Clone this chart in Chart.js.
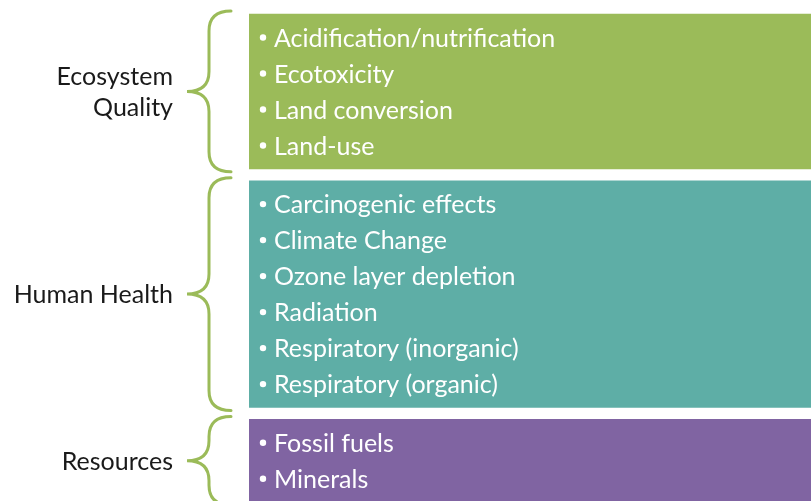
<!DOCTYPE html>
<html>
<head>
<meta charset="utf-8">
<script src="https://cdn.jsdelivr.net/npm/chart.js@4.4.1/dist/chart.umd.min.js"></script>
<style>
  html, body { margin: 0; padding: 0; background: #ffffff; }
  #wrap { width: 811px; height: 501px; }
</style>
</head>
<body>
<div id="wrap"><canvas id="diagram" width="811" height="501"></canvas></div>
<script>
// Gruppi e voci del diagramma
const groupNames = ['Ecosystem Quality', 'Human Health', 'Resources'];
const groupLabelLines = [['Ecosystem', 'Quality'], ['Human Health'], ['Resources']];
const groupItems = [
    ['Acidification/nutrification', 'Ecotoxicity', 'Land conversion', 'Land-use'],
    ['Carcinogenic effects', 'Climate Change', 'Ozone layer depletion', 'Radiation',
     'Respiratory (inorganic)', 'Respiratory (organic)'],
    ['Fossil fuels', 'Minerals']
];
const groupColors = ['#9bbb59', '#5eaea6', '#8064a2'];
const braceColor = '#9bbb59';

// Layout in "righe" (una riga = una voce)
const TOP_OFFSET = 0.39;
const BOX_PAD = 0.30;
const GAP = 0.33;
const ROWS_VISIBLE = 501 / 36;

// Estensione di ogni riquadro ricavata dal numero di voci
const boxRanges = [];
let cursor = TOP_OFFSET;
groupItems.forEach(function(items) {
    const start = cursor;
    const end = start + items.length + BOX_PAD;
    boxRanges.push([start, end]);
    cursor = end + GAP;
});

const FONT = '25px Lato, "Open Sans", sans-serif';

/**
 * Plugin che disegna parentesi graffe, etichette e voci puntate
 */
const bracePlugin = {
    id: 'bracePlugin',
    afterDatasetsDraw: function(chart) {
        const ctx = chart.ctx;
        const y = chart.scales.y;
        const area = chart.chartArea;

        boxRanges.forEach(function(range, g) {
            const top = y.getPixelForValue(range[0]);
            const bottom = y.getPixelForValue(range[1]);
            const mid = (top + bottom) / 2;

            // parentesi graffa
            const bTop = top - 3;
            const bBot = bottom + 3;
            const xEnd = area.left - 18;
            const xStem = area.left - 40;
            const xTip = area.left - 62;
            ctx.save();
            ctx.strokeStyle = braceColor;
            ctx.lineWidth = 3;
            ctx.lineCap = 'round';
            ctx.beginPath();
            ctx.moveTo(xEnd, bTop);
            ctx.quadraticCurveTo(xStem, bTop, xStem, bTop + 20);
            ctx.lineTo(xStem, mid - 20);
            ctx.quadraticCurveTo(xStem, mid, xTip, mid);
            ctx.quadraticCurveTo(xStem, mid, xStem, mid + 20);
            ctx.lineTo(xStem, bBot - 20);
            ctx.quadraticCurveTo(xStem, bBot, xEnd, bBot);
            ctx.stroke();
            ctx.restore();

            // etichetta del gruppo
            const lines = groupLabelLines[g];
            const lh = 31;
            ctx.save();
            ctx.fillStyle = '#1a1a1a';
            ctx.font = FONT;
            ctx.textAlign = 'right';
            ctx.textBaseline = 'middle';
            lines.forEach(function(line, i) {
                const ly = mid + (i - (lines.length - 1) / 2) * lh;
                ctx.fillText(line, area.left - 76, ly + 1);
            });
            ctx.restore();

            // voci puntate
            ctx.save();
            ctx.fillStyle = '#ffffff';
            ctx.font = FONT;
            ctx.textAlign = 'left';
            ctx.textBaseline = 'middle';
            groupItems[g].forEach(function(item, i) {
                const iy = y.getPixelForValue(range[0] + BOX_PAD / 2 + i + 0.5);
                ctx.beginPath();
                ctx.arc(area.left + 14, iy, 3.2, 0, Math.PI * 2);
                ctx.fill();
                ctx.fillText(item, area.left + 25, iy + 1);
            });
            ctx.restore();
        });
    }
};

function initDiagram() {
    const datasets = groupNames.map(function(name, g) {
        return {
            label: name,
            data: [boxRanges[g]],
            backgroundColor: groupColors[g],
            borderWidth: 0,
            grouped: false,
            barPercentage: 1,
            categoryPercentage: 1
        };
    });

    const ctx = document.getElementById('diagram').getContext('2d');
    new Chart(ctx, {
        type: 'bar',
        data: {
            labels: ['box'],
            datasets: datasets
        },
        options: {
            responsive: false,
            animation: false,
            layout: { padding: { left: 249, right: 0, top: 0, bottom: 0 } },
            plugins: {
                legend: { display: false },
                tooltip: { enabled: false }
            },
            scales: {
                x: { display: false },
                y: {
                    display: false,
                    reverse: true,
                    min: 0,
                    max: ROWS_VISIBLE
                }
            }
        },
        plugins: [bracePlugin]
    });
}

document.addEventListener('DOMContentLoaded', initDiagram);
</script>
</body>
</html>
